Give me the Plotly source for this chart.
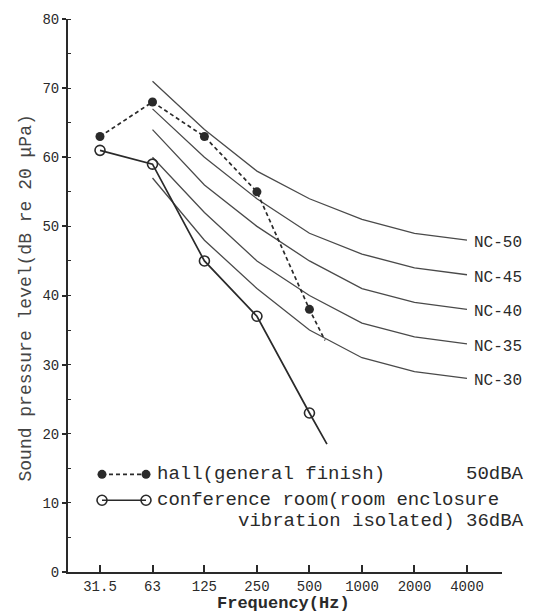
import plotly.graph_objects as go

# Octave-band centre frequencies (Hz) and axis labels
band_freqs = [31.5, 63, 125, 250, 500, 1000, 2000, 4000]
band_labels = ["31.5", "63", "125", "250", "500", "1000", "2000", "4000"]

# Measured spectra (dB re 20 uPa)
meas_freqs = [31.5, 63, 125, 250, 500]
hall_spl = [63, 68, 63, 55, 38]
conf_spl = [61, 59, 45, 37, 23]
# line continuation drawn past the last measured band
hall_tail = (614, 33.5)
conf_tail = (630, 18.5)

# NC criterion curves, 63 Hz .. 4000 Hz
nc_freqs = [63, 125, 250, 500, 1000, 2000, 4000]
nc_curves = {
    "NC-50": [71, 64, 58, 54, 51, 49, 48],
    "NC-45": [67, 60, 54, 49, 46, 44, 43],
    "NC-40": [64, 56, 50, 45, 41, 39, 38],
    "NC-35": [60, 52, 45, 40, 36, 34, 33],
    "NC-30": [57, 48, 41, 35, 31, 29, 28],
}

INK = "#2a2a2a"
MONO = "Liberation Mono, DejaVu Sans Mono, monospace"

# plot-area geometry in pixels, used to place the key
PLOT_L, PLOT_R, PLOT_T, PLOT_B = 68, 502, 17, 572


def px_x(px):
    return (px - PLOT_L) / (PLOT_R - PLOT_L)


def px_y(py):
    return (PLOT_B - py) / (PLOT_B - PLOT_T)


fig = go.Figure()

for name, vals in nc_curves.items():
    fig.add_trace(go.Scatter(
        x=nc_freqs, y=vals, mode="lines",
        line=dict(color="#4a4a4a", width=1.3),
        showlegend=False, hoverinfo="skip",
    ))

# hall: dashed line with filled dots
fig.add_trace(go.Scatter(
    x=meas_freqs + [hall_tail[0]], y=hall_spl + [hall_tail[1]], mode="lines",
    line=dict(color=INK, width=1.7, dash="4px,3px"), showlegend=False,
))
fig.add_trace(go.Scatter(
    x=meas_freqs, y=hall_spl, mode="markers",
    marker=dict(symbol="circle", size=9, color=INK), showlegend=False,
))

# conference room: solid line with open circles
fig.add_trace(go.Scatter(
    x=meas_freqs + [conf_tail[0]], y=conf_spl + [conf_tail[1]], mode="lines",
    line=dict(color=INK, width=1.7), showlegend=False,
))
fig.add_trace(go.Scatter(
    x=meas_freqs, y=conf_spl, mode="markers",
    marker=dict(symbol="circle-open", size=10, color=INK, line=dict(width=1.6)),
    showlegend=False,
))

# NC curve labels at the 4000 Hz end
annotations = []
for name, vals in nc_curves.items():
    annotations.append(dict(
        x=3.6021, y=vals[-1] - 0.4, xref="x", yref="y", text=name,
        showarrow=False, xanchor="left", yanchor="middle", xshift=5,
        font=dict(family=MONO, size=16, color=INK),
    ))

# Key samples drawn on an overlay axis measured in pixels of the plot area
key_y = [474, 500]
fig.add_trace(go.Scatter(
    x=[102, 146], y=[key_y[0]] * 2, xaxis="x2", yaxis="y2", mode="lines+markers",
    line=dict(color=INK, width=1.7, dash="4px,3px"),
    marker=dict(symbol="circle", size=9, color=INK), showlegend=False, hoverinfo="skip",
))
fig.add_trace(go.Scatter(
    x=[102, 146], y=[key_y[1]] * 2, xaxis="x2", yaxis="y2", mode="lines+markers",
    line=dict(color=INK, width=1.7),
    marker=dict(symbol="circle-open", size=10, color=INK, line=dict(width=1.6)),
    showlegend=False, hoverinfo="skip",
))

key_font = dict(family=MONO, size=19, color=INK)
annotations += [
    dict(x=px_x(155), y=px_y(key_y[0]), xref="paper", yref="paper",
         text="hall(general finish)", showarrow=False,
         xanchor="left", yanchor="middle", font=key_font),
    dict(x=1, y=px_y(key_y[0]), xref="paper", yref="paper", xshift=24,
         text="50dBA", showarrow=False, xanchor="right", yanchor="middle", font=key_font),
    dict(x=px_x(155), y=px_y(key_y[1]), xref="paper", yref="paper",
         text="conference room(room enclosure", showarrow=False,
         xanchor="left", yanchor="middle", font=key_font),
    dict(x=1, y=px_y(521), xref="paper", yref="paper", xshift=24,
         text="vibration isolated) 36dBA", showarrow=False,
         xanchor="right", yanchor="middle", font=key_font),
    # axis titles
    dict(x=0, y=0.5, xref="paper", yref="paper", text="Sound pressure level(dB re 20 \u03bcPa)",
         textangle=-90, showarrow=False, xanchor="center", yanchor="middle", xshift=-43,
         yshift=-3, font=dict(family=MONO, size=18, color="#444")),
    dict(x=0.5, y=0, xref="paper", yref="paper", text="<b>Frequency(Hz)</b>",
         showarrow=False, xanchor="center", yanchor="middle", yshift=-31, xshift=-2,
         font=dict(family=MONO, size=17, color=INK)),
]

fig.update_layout(
    width=534, height=613, autosize=False,
    margin=dict(l=PLOT_L, r=534 - PLOT_R, t=PLOT_T, b=613 - PLOT_B),
    paper_bgcolor="white", plot_bgcolor="white",
    annotations=annotations,
    xaxis=dict(
        type="log", range=[1.3149, 3.8027],
        tickvals=band_freqs, ticktext=band_labels,
        ticks="inside", ticklen=7, tickwidth=1.5, tickcolor=INK,
        showline=True, linewidth=2, linecolor=INK,
        showgrid=False, zeroline=False,
        tickfont=dict(family=MONO, size=14, color=INK),
    ),
    yaxis=dict(
        range=[0, 80], dtick=10, tick0=0,
        ticks="outside", ticklen=4, tickwidth=1.5, tickcolor=INK,
        minor=dict(dtick=5, ticks="inside", ticklen=3, tickwidth=1.2, tickcolor=INK),
        showline=True, linewidth=2, linecolor=INK,
        showgrid=False, zeroline=False,
        tickfont=dict(family=MONO, size=14, color=INK),
    ),
    xaxis2=dict(range=[PLOT_L, PLOT_R], overlaying="x", visible=False, fixedrange=True),
    yaxis2=dict(range=[PLOT_B, PLOT_T], overlaying="y", visible=False, fixedrange=True),
)

fig.write_html("out.html")
